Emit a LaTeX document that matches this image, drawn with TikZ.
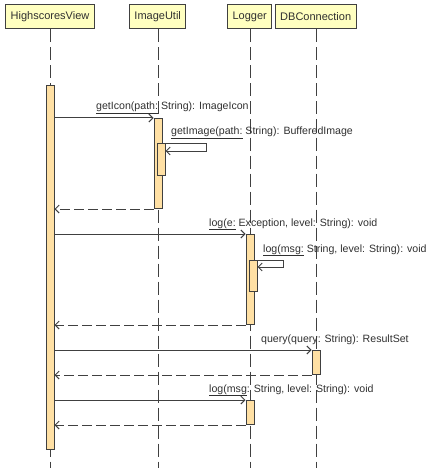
\documentclass[tikz,border=0pt]{standalone}
\usepackage{fontspec}
\setmainfont{Liberation Sans}
\usetikzlibrary{arrows.meta,positioning}
\definecolor{objfill}{HTML}{FFFFC0}
\definecolor{actfill}{HTML}{FFE0A4}
\definecolor{ink}{HTML}{404040}
\definecolor{txt}{HTML}{303030}
\tikzset{%
   obj/.style={draw=ink, fill=objfill, line width=1pt, inner xsep=5pt, inner ysep=0pt, minimum height=24pt, font=\fontsize{11}{13}\selectfont, text=txt},
   act/.style={draw=ink, fill=actfill, line width=1pt, minimum width=8pt, inner sep=0pt, anchor=north},
   life/.style={draw=ink, line width=1pt, dash pattern=on 13pt off 5pt},
   msg/.style={draw=ink, line width=1pt, -{Straight Barb[length=4pt, width=8pt]}},
   ret/.style={msg, dash pattern=on 10pt off 4pt},
   lbl/.style={anchor=base west, inner sep=0pt, font=\fontsize{10.6}{13}\selectfont, text=txt},
}

\begin{document}
\begin{tikzpicture}[x=1pt, y=-1pt]
   \useasboundingbox (0,0) rectangle (438,468);
   % objects
   \node[obj] (hv) at (50,17) {HighscoresView};
   \node[obj] (iu) at (157.7,17) {ImageUtil};
   \node[obj] (lg) at (249.7,17) {Logger};
   \node[obj] (db) at (315.7,17) {DBConnection};
   % lifelines
   \coordinate (hv-end) at (50,468);
   \coordinate (iu-end) at (158,468);
   \coordinate (lg-end) at (250,468);
   \coordinate (db-end) at (316,468);
   \draw[life] (hv) -- (hv-end);
   \draw[life] (iu.south -| iu-end) -- (iu-end);
   \draw[life] (lg.south -| lg-end) -- (lg-end);
   \draw[life] (db.south -| db-end) -- (db-end);
   % activations
   \node[act, minimum height=364pt] (a0) at (50,85) {};
   \node[act, minimum height=90pt] (a1) at (158,118) {};
   \node[act, minimum height=32pt] (a2) at (161,143) {};
   \node[act, minimum height=90pt] (a3) at (250,234) {};
   \node[act, minimum height=31pt] (a4) at (253,260) {};
   \node[act, minimum height=24pt] (a5) at (316,350) {};
   \node[act, minimum height=24pt] (a6) at (250,400) {};
   % getIcon
   \draw[msg] (a0.east |- a1.north) -- (a1.north west);
   \node[lbl] (m1) at (96,110) {\underline{getIcon(path:} String): ImageIcon};
   \draw[msg] (a2.north east) -- ++(41,0) |- ([yshift=-8pt]a2.north east);
   \node[lbl] (m2) at (171,135) {\underline{getImage(path:} String): BufferedImage};
   \draw[ret] (a1.south west) -- (a0.east |- a1.south);
   % log
   \draw[msg] (a0.east |- a3.north) -- (a3.north west);
   \node[lbl] (m3) at (209,226) {\underline{log(e:} Exception, level: String): void};
   \draw[msg] (a4.north east) -- ++(26,0) |- ([yshift=-7pt]a4.north east);
   \node[lbl] (m4) at (263,252) {\underline{log(msg:} String, level: String): void};
   \draw[ret] (a3.south west) -- (a0.east |- a3.south);
   % query
   \draw[msg] (a0.east |- a5.north) -- (a5.north west);
   \node[lbl] (m5) at (261,342) {query(query: String): ResultSet};
   \draw[ret] (a5.south west) -- (a0.east |- a5.south);
   % log again
   \draw[msg] (a0.east |- a6.north) -- (a6.north west);
   \node[lbl] (m6) at (209,392) {\underline{log(msg}: String, level: String): void};
   \draw[ret] (a6.south west) -- (a0.east |- a6.south);
\end{tikzpicture}
\end{document}
